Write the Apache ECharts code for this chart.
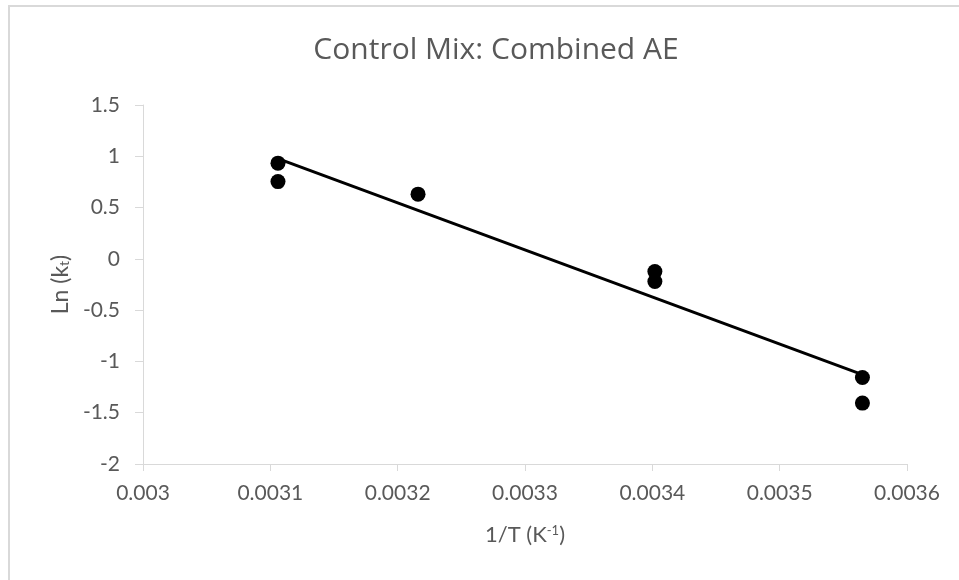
<!DOCTYPE html>
<html>
<head>
<meta charset="utf-8">
<script src="https://cdn.jsdelivr.net/npm/echarts@6/dist/echarts.min.js"></script>
<style>
  html, body { margin: 0; padding: 0; background: #ffffff; }
  #chart { width: 959px; height: 580px; }
</style>
</head>
<body>
<div id="chart"></div>
<script>
// Reciprocal temperature (1/K) and natural log of the rate constant
var invT = [0.003106, 0.003106, 0.003216, 0.003402, 0.003402, 0.003565, 0.003565];
var lnK  = [0.933, 0.753, 0.631, -0.124, -0.221, -1.157, -1.406];

var xTicks = { min: 0.003, max: 0.0036, step: 0.0001 };
var yTicks = { min: -2, max: 1.5, step: 0.5 };

// Least-squares linear trendline through the measured points
function linearFit(xs, ys) {
  var n = xs.length, mx = 0, my = 0;
  for (var i = 0; i < n; i++) { mx += xs[i]; my += ys[i]; }
  mx /= n; my /= n;
  var sxx = 0, sxy = 0;
  for (var j = 0; j < n; j++) {
    sxx += (xs[j] - mx) * (xs[j] - mx);
    sxy += (xs[j] - mx) * (ys[j] - my);
  }
  var slope = sxy / sxx;
  return { slope: slope, intercept: my - slope * mx };
}
var fit = linearFit(invT, lnK);
var xLo = Math.min.apply(null, invT), xHi = Math.max.apply(null, invT);
var trend = [
  [xLo, fit.intercept + fit.slope * xLo],
  [xHi, fit.intercept + fit.slope * xHi]
];

var points = invT.map(function (x, i) { return [x, lnK[i]]; });

var FONT = 'Lato';
var TEXT = '#595959';
var AXIS = '#d9d9d9';

var chart = echarts.init(document.getElementById('chart'), null, { renderer: 'canvas' });
chart.setOption({
  backgroundColor: '#ffffff',
  animation: false,
  textStyle: { fontFamily: FONT },
  title: {
    text: 'Control Mix: Combined AE',
    left: 491,
    top: 30,
    textAlign: 'center',
    textStyle: { fontFamily: 'Open Sans', fontSize: 30, fontWeight: 'normal', color: TEXT }
  },
  graphic: [{
    type: 'rect',
    shape: { x: 9, y: 6, width: 1000, height: 1000 },
    style: { fill: 'none', stroke: AXIS, lineWidth: 2 },
    silent: true
  }],
  grid: { left: 143, right: 52, top: 105, bottom: 116, containLabel: false },
  xAxis: {
    type: 'value',
    min: xTicks.min,
    max: xTicks.max,
    interval: xTicks.step,
    name: '1/T (K{sup|-1})',
    nameLocation: 'middle',
    nameGap: 60,
    nameTextStyle: {
      fontFamily: FONT, fontSize: 22, color: TEXT,
      rich: { sup: { fontFamily: FONT, fontSize: 13, color: TEXT, verticalAlign: 'top', padding: [0, 0, 8, 0] } }
    },
    axisLine: { show: true, onZero: false, lineStyle: { color: AXIS, width: 1 } },
    axisTick: { show: true, inside: false, length: 7, lineStyle: { color: AXIS } },
    axisLabel: {
      margin: 19, fontFamily: FONT, fontSize: 21, color: TEXT,
      formatter: function (v) { return String(parseFloat(v.toFixed(6))); }
    },
    splitLine: { show: false }
  },
  yAxis: {
    type: 'value',
    min: yTicks.min,
    max: yTicks.max,
    interval: yTicks.step,
    name: 'Ln (k{sub|t})',
    nameLocation: 'middle',
    nameRotate: 90,
    nameGap: 70,
    nameTextStyle: {
      fontFamily: FONT, fontSize: 23, color: TEXT,
      rich: { sub: { fontFamily: FONT, fontSize: 14, color: TEXT, verticalAlign: 'bottom', padding: [8, 0, 0, 0] } }
    },
    axisLine: { show: true, onZero: false, lineStyle: { color: AXIS, width: 1 } },
    axisTick: { show: true, inside: false, length: 8, lineStyle: { color: AXIS } },
    axisLabel: {
      margin: 23, fontFamily: FONT, fontSize: 21, color: TEXT,
      formatter: function (v) { return String(parseFloat(v.toFixed(4))); }
    },
    splitLine: { show: false }
  },
  series: [
    {
      name: 'Trendline',
      type: 'line',
      data: trend,
      showSymbol: false,
      symbol: 'none',
      lineStyle: { color: '#000000', width: 3 },
      z: 2
    },
    {
      name: 'Ln (kt)',
      type: 'scatter',
      data: points,
      symbol: 'circle',
      symbolSize: 15,
      itemStyle: { color: '#000000', opacity: 1 },
      z: 3
    }
  ]
});
</script>
</body>
</html>
